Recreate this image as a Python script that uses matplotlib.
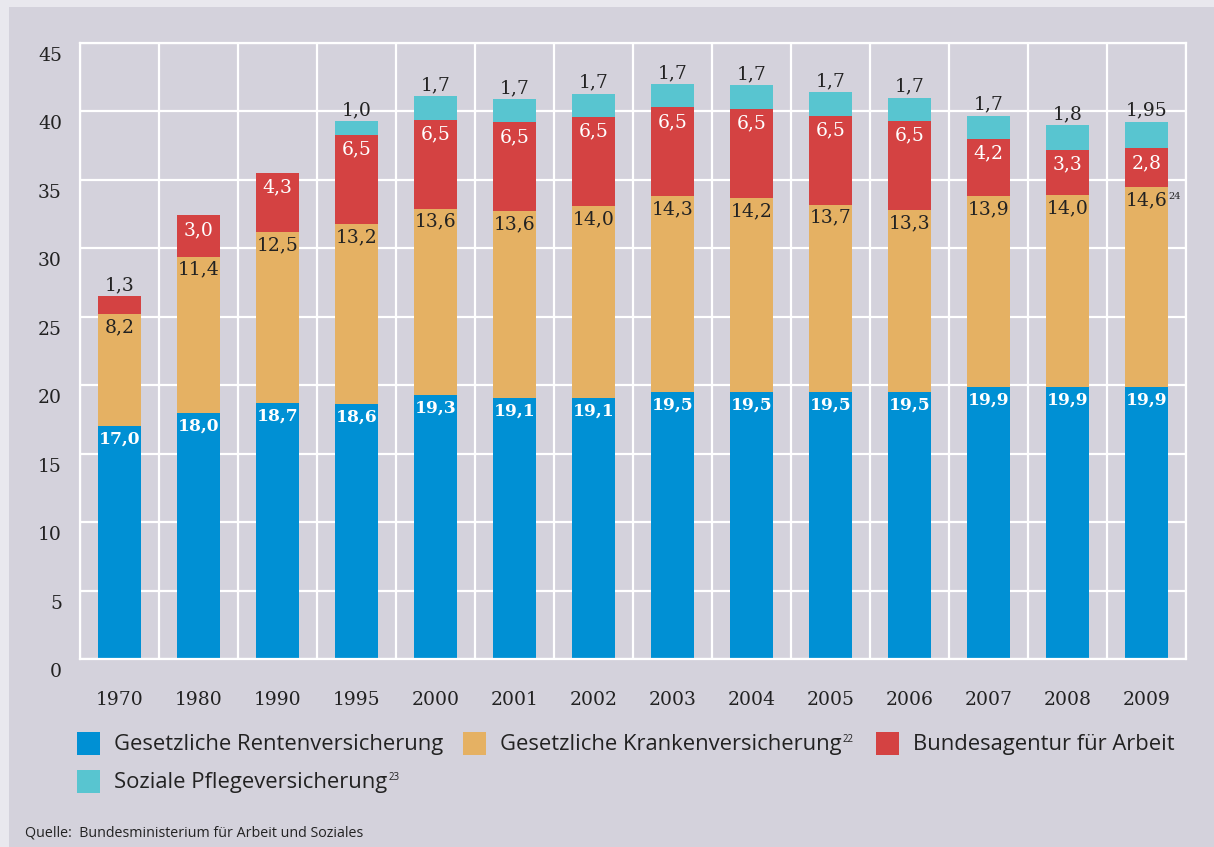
import numpy as np
import matplotlib.pyplot as plt
from matplotlib.patches import Rectangle
from matplotlib.transforms import ScaledTranslation, IdentityTransform

# data (Beitragssätze in %)
years = ['1970', '1980', '1990', '1995', '2000', '2001', '2002',
         '2003', '2004', '2005', '2006', '2007', '2008', '2009']
renten = [17.0, 18.0, 18.7, 18.6, 19.3, 19.1, 19.1, 19.5, 19.5, 19.5, 19.5, 19.9, 19.9, 19.9]
kranken = [8.2, 11.4, 12.5, 13.2, 13.6, 13.6, 14.0, 14.3, 14.2, 13.7, 13.3, 13.9, 14.0, 14.6]
arbeit = [1.3, 3.0, 4.3, 6.5, 6.5, 6.5, 6.5, 6.5, 6.5, 6.5, 6.5, 4.2, 3.3, 2.8]
pflege = [0, 0, 0, 1.0, 1.7, 1.7, 1.7, 1.7, 1.7, 1.7, 1.7, 1.7, 1.8, 1.95]

legend_names = ['Gesetzliche Rentenversicherung', 'Gesetzliche Krankenversicherung',
                'Bundesagentur für Arbeit', 'Soziale Pflegeversicherung']
legend_sup = ['', '22', '', '23']

BLUE = '#0090d4'
ORANGE = '#e5b163'
RED = '#d44242'
CYAN = '#58c5d0'
PANEL = '#d4d2dc'
DARK = '#222222'
SERIF = 'DejaVu Serif'
SANS = 'Open Sans'

W, H = 1214, 847


def fmt(v):
    s = f"{v:.2f}"
    if s.endswith('0'):
        s = s[:-1]
    return s.replace('.', ',')


fig = plt.figure(figsize=(W / 100, H / 100), dpi=100, facecolor='#e9e8ee')
fig.patches.append(Rectangle((9 / W, 0), 1, 1 - 7 / H, transform=fig.transFigure,
                             facecolor=PANEL, edgecolor='none', zorder=-5))

ax = fig.add_axes([80 / W, 1 - 659 / H, (1186 - 80) / W, (659 - 43) / H])
ax.set_facecolor('none')

x = np.arange(len(years))
bw = 0.545
b1 = np.array(renten)
b2 = b1 + np.array(kranken)
b3 = b2 + np.array(arbeit)

ax.bar(x, renten, bw, color=BLUE, zorder=2)
ax.bar(x, kranken, bw, bottom=b1, color=ORANGE, zorder=2)
ax.bar(x, arbeit, bw, bottom=b2, color=RED, zorder=2)
ax.bar(x, pflege, bw, bottom=b3, color=CYAN, zorder=2)

ax.set_xlim(-0.5, 13.5)
ax.set_ylim(0, 45)
ax.set_yticks(np.arange(0, 46, 5))
ax.set_xticks(x)
ax.set_xticklabels(years)
ax.set_xticks(np.arange(-0.5, 14, 1), minor=True)
ax.set_axisbelow(True)
ax.grid(which='major', axis='y', color='white', lw=1.6)
ax.grid(which='minor', axis='x', color='white', lw=1.6)
for sp in ax.spines.values():
    sp.set_color('white')
    sp.set_linewidth(1.6)
ax.tick_params(which='both', length=0)
ax.tick_params(axis='x', pad=23)
ax.tick_params(axis='y', pad=13)
for lab in ax.get_xticklabels() + ax.get_yticklabels():
    lab.set_fontfamily(SERIF)
    lab.set_fontsize(13.5)
    lab.set_color(DARK)
for lab in ax.get_yticklabels():
    lab.set_transform(lab.get_transform() + ScaledTranslation(0, -0.11, fig.dpi_scale_trans))

# value labels
lab_kw = dict(textcoords='offset points', ha='center', family=SERIF, zorder=3)
for i in x:
    ax.annotate(fmt(renten[i]), (i, b1[i]), xytext=(0, -9.5), va='center',
                color='white', fontweight='bold', fontsize=12.3, **lab_kw)
    t = ax.annotate(fmt(kranken[i]), (i, b2[i]), xytext=(0, -9.5), va='center',
                    color=DARK, fontsize=13.5, **lab_kw)
    if i == 13:
        kr_last = t
    if arbeit[i] < 2:
        ax.annotate(fmt(arbeit[i]), (i, b3[i]), xytext=(0, 1.5), va='bottom',
                    color=DARK, fontsize=13.5, **lab_kw)
    else:
        ax.annotate(fmt(arbeit[i]), (i, b3[i]), xytext=(0, -10.5), va='center',
                    color='white', fontsize=13.5, **lab_kw)
    if pflege[i] > 0:
        ax.annotate(fmt(pflege[i]), (i, b3[i] + pflege[i]), xytext=(0, 1.5), va='bottom',
                    color=DARK, fontsize=13.5, **lab_kw)

# legend
leg_colors = [BLUE, ORANGE, RED, CYAN]
leg_pos = [(77, 732), (463, 732), (876, 732), (77, 770)]
leg_texts = []
for name, c, (px, py) in zip(legend_names, leg_colors, leg_pos):
    fig.patches.append(Rectangle((px / W, 1 - (py + 23) / H), 23 / W, 23 / H,
                                 transform=fig.transFigure, facecolor=c, edgecolor='none'))
    leg_texts.append(fig.text((px + 37) / W, 1 - (py + 12) / H, name, family=SANS,
                              fontsize=15.8, color=DARK, va='center', ha='left'))

fig.text(25 / W, 1 - 833 / H, 'Quelle:  Bundesministerium für Arbeit und Soziales',
         family=SANS, fontsize=10.3, color=DARK, va='center', ha='left')

# superscripts
fig.canvas.draw()
r = fig.canvas.get_renderer()
for t, s in zip(leg_texts, legend_sup):
    if s:
        bb = t.get_window_extent(r)
        fig.text(bb.x1 + 1, bb.y1 - 11, s, transform=IdentityTransform(), family=SANS,
                 fontsize=7, color=DARK, va='bottom', ha='left')
bb = kr_last.get_window_extent(r)
fig.text(bb.x1 + 1, bb.y1 - 10, '24', transform=IdentityTransform(), family=SERIF,
         fontsize=7, color=DARK, va='bottom', ha='left')

fig.savefig('out.png', dpi=100, facecolor=fig.get_facecolor())
